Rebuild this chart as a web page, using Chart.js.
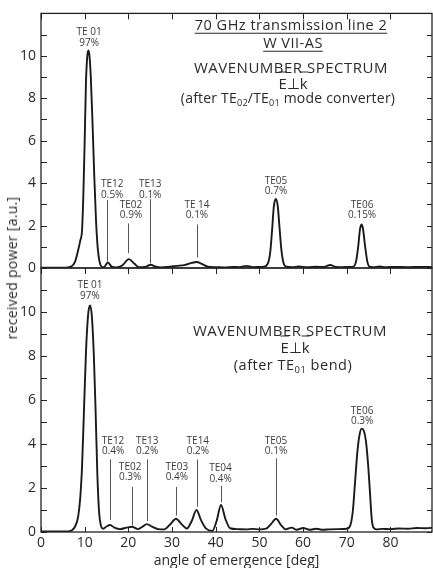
<!DOCTYPE html>
<html><head><meta charset="utf-8">
<script src="https://cdn.jsdelivr.net/npm/chart.js@4.4.1/dist/chart.umd.min.js"></script>
<style>
html,body{margin:0;padding:0;background:#fff;}
#wrap{position:relative;width:433px;height:568px;overflow:hidden;background:#fff;font-family:'Open Sans',sans-serif;color:#2a2a2a;}
canvas{position:absolute;left:0;top:0;}
.t{position:absolute;transform:translate(-50%,-50%);white-space:nowrap;line-height:1;}
.ul{text-decoration:underline;text-underline-offset:3px;text-decoration-thickness:1px;}
.ov{text-decoration:overline;text-decoration-thickness:1px;}
.ls{letter-spacing:0.5px;}
sub{font-size:0.65em;vertical-align:-0.35em;line-height:0;}
</style></head>
<body><div id="wrap">
<canvas id="cTop" width="433" height="568"></canvas>
<canvas id="cBot" width="433" height="568"></canvas>
<div class="t ul ls" style="left:291px;top:25px;font-size:14.5px">70 GHz transmission line 2</div>
<div class="t ul ls" style="left:293px;top:43px;font-size:14.5px">W VII-AS</div>
<div class="t ls" style="left:291px;top:67px;font-size:15px">WAVENUMBER SPECTRUM</div>
<div class="t" style="left:293px;top:83px;font-size:15px"><span class="ov">E</span>⊥<span class="ov">k</span></div>
<div class="t" style="left:288px;top:98px;font-size:14px;letter-spacing:0.2px">(after TE<sub>02</sub>/TE<sub>01</sub> mode converter)</div>
<div class="t ls" style="left:290px;top:330px;font-size:15px">WAVENUMBER SPECTRUM</div>
<div class="t" style="left:295px;top:347px;font-size:15px"><span class="ov">E</span>⊥<span class="ov">k</span></div>
<div class="t ls" style="left:293px;top:365px;font-size:14.5px">(after TE<sub>01</sub> bend)</div>
<div class="t" style="left:12px;top:268px;font-size:14px;letter-spacing:0.3px;transform:translate(-50%,-50%) rotate(-90deg)">received power [a.u.]</div>
</div>
<script>
// ---- data ----
const angleTickValues = [0, 10, 20, 30, 40, 50, 60, 70, 80];
const powerTickValues = [0, 2, 4, 6, 8, 10];

const topAngle = [0, 3, 5, 6.2, 7.0, 7.8, 8.4, 9.0, 9.4, 9.7, 10.0, 10.3, 10.6, 10.85, 11.1, 11.4, 11.8, 12.2, 12.6, 13.0,
  13.4, 13.9, 14.4, 15.3, 16.2, 17.2, 18.6, 20.1, 21.4, 22.4, 23.8, 25.1, 26.3, 27.5, 29, 31, 33, 34.5, 35.6, 36.8,
  38.2, 40, 42, 44, 45.5, 47.0, 48.5, 50, 51.0, 51.9, 52.5, 52.9, 53.3, 53.75, 54.2, 54.6, 55.0, 55.5, 56.2, 57.5,
  59, 61, 63, 64.8, 66.2, 67.5, 69, 70.5, 71.5, 72.1, 72.6, 73.0, 73.35, 73.7, 74.2, 74.7, 75.2, 76, 77.5, 79,
  81, 84, 87, 90];
const topPower = [0.02, 0.02, 0.02, 0.03, 0.08, 0.3, 0.75, 1.3, 1.8, 3.5, 6.0, 8.8, 10.0, 10.25, 10.0, 9.0, 6.8, 4.3, 2.2, 0.9,
  0.3, 0.06, 0.04, 0.26, 0.06, 0.03, 0.12, 0.42, 0.2, 0.04, 0.05, 0.15, 0.06, 0.03, 0.05, 0.1, 0.15, 0.24, 0.28, 0.2,
  0.06, 0.04, 0.03, 0.05, 0.04, 0.1, 0.04, 0.05, 0.06, 0.2, 0.8, 1.8, 2.9, 3.25, 2.9, 1.9, 0.9, 0.25, 0.06, 0.04,
  0.07, 0.04, 0.06, 0.05, 0.14, 0.05, 0.04, 0.05, 0.06, 0.3, 1.0, 1.8, 2.05, 1.85, 1.0, 0.3, 0.06, 0.04, 0.07, 0.04,
  0.05, 0.04, 0.05, 0.04];

const botAngle = [0, 4, 6.3, 7.1, 7.8, 8.5, 9.0, 9.4, 9.8, 10.3, 10.8, 11.2, 11.6, 12.1, 12.5, 12.9, 13.3, 13.7, 14.2, 15.0,
  15.8, 16.8, 18.1, 19.6, 20.8, 22.2, 23.3, 24.2, 25.4, 26.8, 28.2, 29.6, 30.9, 32.2, 33.4, 34.5, 35.6, 36.6, 37.8, 39.2,
  40.2, 41.2, 42.2, 43.3, 45, 47, 48.5, 50, 51.5, 52.6, 53.8, 55.0, 56.0, 57.4, 58.5, 60, 61.5, 63, 64.5, 66,
  68, 70.0, 70.8, 71.4, 71.9, 72.4, 72.9, 73.4, 73.9, 74.4, 74.9, 75.3, 75.7, 76.1, 76.8, 78, 80, 82, 84, 86,
  88, 90];
const botPower = [0.02, 0.02, 0.03, 0.08, 0.25, 0.7, 1.6, 3.0, 5.3, 8.2, 9.9, 10.3, 9.9, 8.0, 5.5, 2.6, 0.9, 0.3, 0.15, 0.25,
  0.32, 0.2, 0.13, 0.2, 0.24, 0.13, 0.25, 0.36, 0.24, 0.13, 0.12, 0.35, 0.6, 0.35, 0.16, 0.5, 1.0, 0.55, 0.15, 0.05,
  0.5, 1.23, 0.6, 0.17, 0.13, 0.12, 0.14, 0.12, 0.15, 0.35, 0.6, 0.3, 0.12, 0.2, 0.1, 0.18, 0.1, 0.15, 0.1, 0.12,
  0.13, 0.15, 0.3, 1.0, 2.3, 3.6, 4.4, 4.7, 4.6, 4.1, 3.0, 1.8, 0.6, 0.2, 0.12, 0.14, 0.13, 0.16, 0.15, 0.18,
  0.17, 0.2];

const topNoteModes = ['TE 01', 'TE12', 'TE02', 'TE13', 'TE 14', 'TE05', 'TE06'];
const topNotePercents = ['97%', '0.5%', '0.9%', '0.1%', '0.1%', '0.7%', '0.15%'];
const botNoteModes = ['TE 01', 'TE12', 'TE02', 'TE13', 'TE03', 'TE14', 'TE04', 'TE05', 'TE06'];
const botNotePercents = ['97%', '0.4%', '0.3%', '0.2%', '0.4%', '0.2%', '0.4%', '0.1%', '0.3%'];

// note placement: [label angle, label power, leader angle, leader top, leader bottom]
const topNotePlace = [[11.0, 11.1], [16.3, 3.93, 15.2, 3.2, 0.3], [20.6, 2.97, 20.0, 2.1, 0.7], [25.0, 3.93, 25.0, 3.24, 0.23],
  [35.7, 2.97, 35.7, 2.05, 0.5], [53.8, 4.11], [73.5, 2.97]];
const botNotePlace = [[11.2, 11.2], [16.5, 4.14, 15.8, 3.3, 0.55], [20.4, 2.95, 20.8, 2.05, 0.3], [24.3, 4.14, 24.2, 3.3, 0.5],
  [31.1, 2.95, 30.9, 2.05, 0.75], [35.9, 4.14, 35.6, 3.3, 1.15], [41.1, 2.9, 41.2, 2.1, 1.35], [53.8, 4.14, 53.8, 3.35, 0.75],
  [73.5, 5.5]];

// ---- drawing ----
Chart.defaults.font.family = "'Open Sans', sans-serif";
Chart.defaults.color = '#2a2a2a';

function pts(xs, ys) { return xs.map((v, i) => ({x: v, y: ys[i]})); }

function notesPlugin(modes, pcts, place) {
  return {
    id: 'notes',
    afterDatasetsDraw(chart) {
      const {ctx, scales: {x, y}} = chart;
      ctx.save();
      ctx.fillStyle = '#3a3a3a';
      ctx.strokeStyle = '#555';
      ctx.lineWidth = 1;
      ctx.font = "10px 'Open Sans', sans-serif";
      ctx.textAlign = 'center';
      ctx.textBaseline = 'middle';
      place.forEach((p, i) => {
        const px = x.getPixelForValue(p[0]);
        const py = y.getPixelForValue(p[1]);
        ctx.fillText(modes[i], px, py);
        ctx.fillText(pcts[i], px, py + 10.5);
        if (p.length > 2) {
          const lx = Math.round(x.getPixelForValue(p[2])) + 0.5;
          ctx.beginPath();
          ctx.moveTo(lx, y.getPixelForValue(p[3]));
          ctx.lineTo(lx, y.getPixelForValue(p[4]));
          ctx.stroke();
        }
      });
      ctx.restore();
    }
  };
}

function framePlugin(bottomTicks) {
  return {
    id: 'frame',
    afterDraw(chart) {
      const {ctx, chartArea: a, scales: {x, y}} = chart;
      ctx.save();
      ctx.strokeStyle = '#222';
      ctx.lineWidth = 1.3;
      ctx.strokeRect(a.left, a.top, a.right - a.left, a.bottom - a.top);
      ctx.lineWidth = 1;
      ctx.beginPath();
      for (let v = y.min; v <= y.max; v += 1) {
        const py = Math.round(y.getPixelForValue(v)) + 0.5;
        ctx.moveTo(a.left, py); ctx.lineTo(a.left + 6, py);
        ctx.moveTo(a.right, py); ctx.lineTo(a.right - 5, py);
      }
      angleTickValues.forEach(v => {
        const px = Math.round(x.getPixelForValue(v)) + 0.5;
        ctx.moveTo(px, a.top); ctx.lineTo(px, a.top + 6);
        if (bottomTicks) { ctx.moveTo(px, a.bottom); ctx.lineTo(px, a.bottom - 5); }
      });
      ctx.stroke();
      ctx.restore();
    }
  };
}

function yScale() {
  return {
    type: 'linear', min: 0, max: 12,
    afterBuildTicks: s => { s.ticks = powerTickValues.map(v => ({value: v})); },
    afterFit: s => { s.width = 41; },
    ticks: {padding: 5, font: {size: 14}, color: '#2a2a2a'},
    grid: {display: false, drawTicks: false},
    border: {display: false}
  };
}

function lineSet(xs, ys) {
  return {
    data: pts(xs, ys), borderColor: '#1a1a1a', borderWidth: 1.9, pointRadius: 0,
    cubicInterpolationMode: 'monotone', fill: false
  };
}

new Chart(document.getElementById('cTop'), {
  type: 'line',
  data: {datasets: [lineSet(topAngle, topPower)]},
  options: {
    responsive: false, animation: false, devicePixelRatio: 1,
    layout: {padding: {top: 6, bottom: 300, left: 0, right: 1}},
    plugins: {legend: {display: false}, tooltip: {enabled: false}},
    scales: {
      x: {type: 'linear', min: 0, max: 89.5, display: false},
      y: yScale()
    }
  },
  plugins: [notesPlugin(topNoteModes, topNotePercents, topNotePlace), framePlugin(false)]
});

new Chart(document.getElementById('cBot'), {
  type: 'line',
  data: {datasets: [lineSet(botAngle, botPower)]},
  options: {
    responsive: false, animation: false, devicePixelRatio: 1,
    layout: {padding: {top: 268, bottom: 0, left: 0, right: 1}},
    plugins: {legend: {display: false}, tooltip: {enabled: false}},
    scales: {
      x: {
        type: 'linear', min: 0, max: 89.5,
        afterBuildTicks: s => { s.ticks = angleTickValues.map(v => ({value: v})); },
        afterFit: s => { s.height = 36; },
        ticks: {padding: 3, font: {size: 14}, color: '#2a2a2a', maxRotation: 0, autoSkip: false},
        grid: {display: false, drawTicks: false},
        border: {display: false},
        title: {display: true, text: 'angle of emergence [deg]', font: {size: 14, lineHeight: 1}, padding: 0, color: '#2a2a2a'}
      },
      y: yScale()
    }
  },
  plugins: [notesPlugin(botNoteModes, botNotePercents, botNotePlace), framePlugin(true)]
});
</script>
</body></html>
